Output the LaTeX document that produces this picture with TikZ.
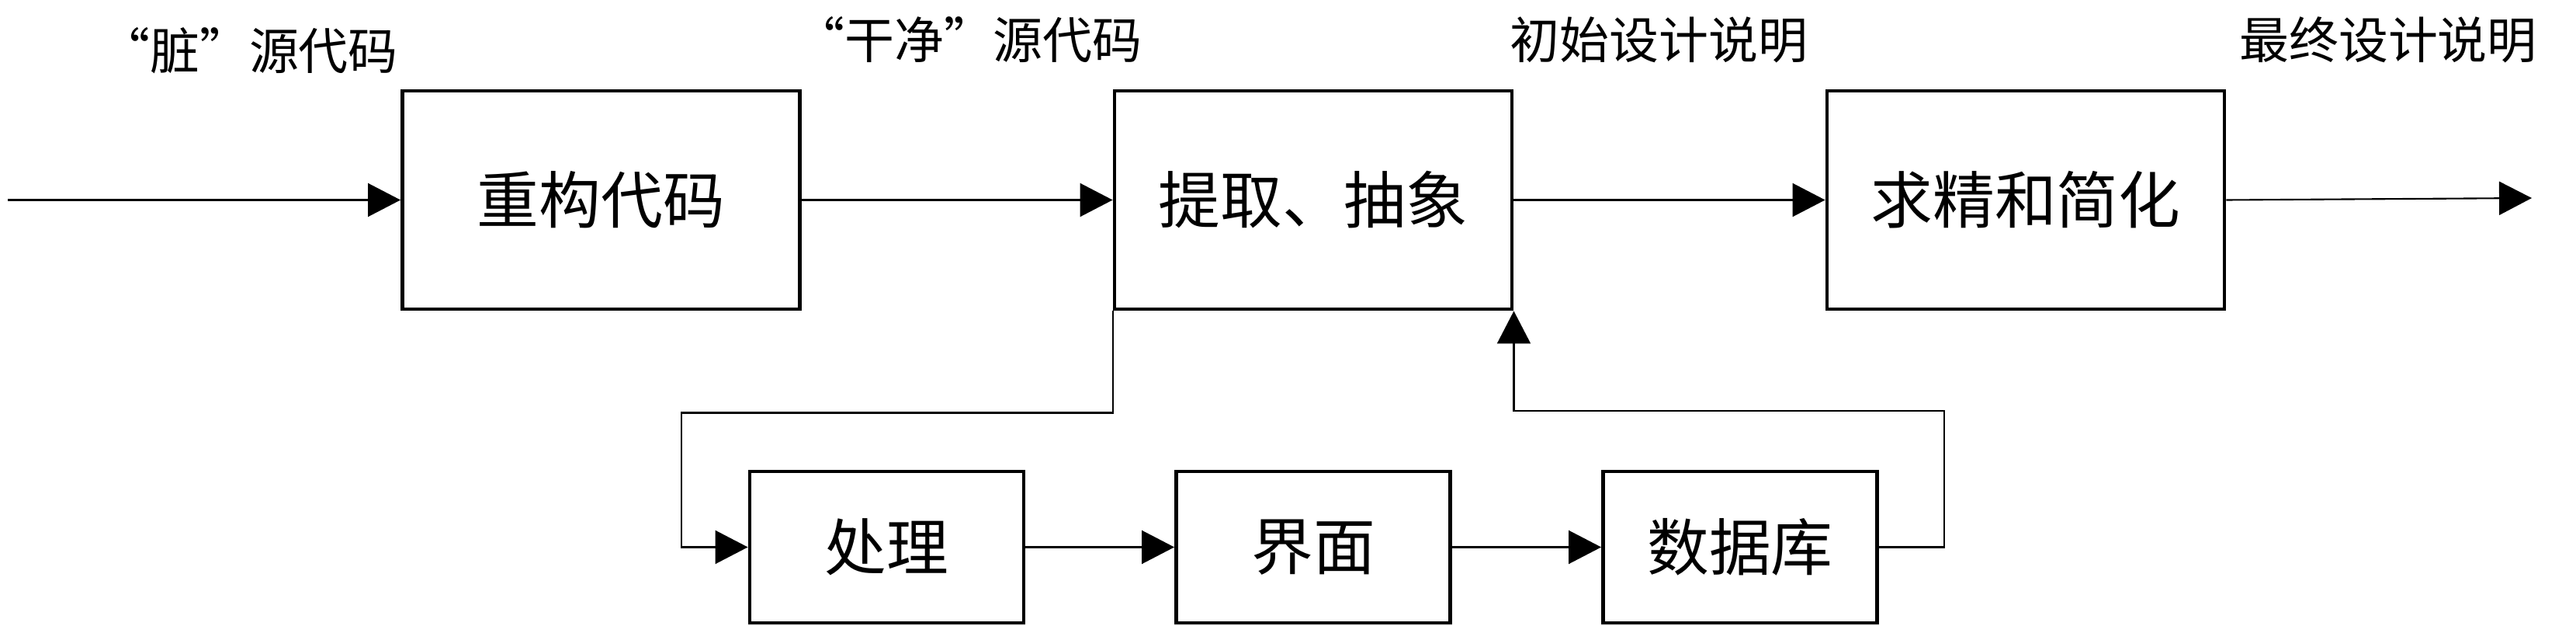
\documentclass[tikz,border=0pt]{standalone}
\usepackage{fontspec}
\setmainfont{Noto Sans CJK SC}
\usetikzlibrary{arrows.meta}
\begin{document}
\begin{tikzpicture}[
	blk/.style={draw, line width=1.4pt, minimum width=5.12cm, minimum height=2.81cm, font=\fontsize{22.7pt}{24pt}\selectfont},
	sblk/.style={draw, line width=1.4pt, minimum width=3.53cm, minimum height=1.95cm, font=\fontsize{22.7pt}{24pt}\selectfont},
	lbl/.style={font=\fontsize{18.2pt}{20pt}\selectfont, inner sep=0pt},
	flow/.style={line width=0.6pt, -{Triangle[length=4.2mm, width=4.3mm]}}]
	\useasboundingbox (0,0) rectangle (33.19,-8.06);
		\node[blk] (refactor) at (7.745,-2.575) {重构代码};
		\node[blk] (extract) at (16.92,-2.575) {提取、抽象};
		\node[blk] (refine) at (26.10,-2.575) {求精和简化};
		\node[sblk] (proc) at (11.425,-7.045) {处理};
		\node[sblk] (ui) at (16.92,-7.045) {界面};
		\node[sblk] (db) at (22.42,-7.045) {数据库};
		\node[lbl] (dirty) at (3.21,-0.65) {“脏”源代码};
		\node[lbl] (clean) at (12.48,-0.515) {“干净”源代码};
		\node[lbl] (initspec) at (21.375,-0.515) {初始设计说明};
		\node[lbl] (finalspec) at (30.77,-0.515) {最终设计说明};
		\coordinate (in) at (0.10,-2.575);
		\coordinate (out) at (32.62,-2.55);
		\draw[flow] (in) -- (refactor);
		\draw[flow] (refactor) -- (extract);
		\draw[flow] (extract) -- (refine);
		\draw[flow] (refine.east) -- (out);
		\draw[flow] (proc) -- (ui);
		\draw[flow] (ui) -- (db);
		\draw[flow] (extract.south west) -- ++(0,-1.31) -| (8.78,-7.045) -- (proc.west);
		\draw[flow] (db.east) -| (25.05,-5.29) -| (extract.south east);
	\end{tikzpicture}
\end{document}
